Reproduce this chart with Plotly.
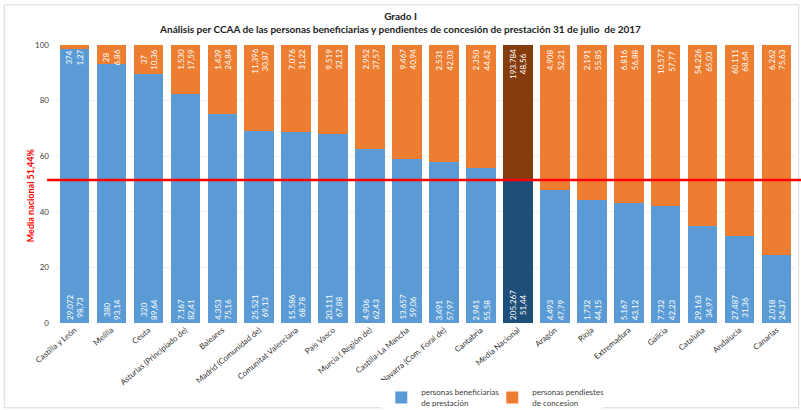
import plotly.graph_objects as go

# Regions, ordered by share of beneficiaries
ccaa = [
    "Castilla y León", "Melilla", "Ceuta", "Asturias (Principiado de)", "Baleares",
    "Madrid (Comunidad de)", "Comunitat Valenciana", "País Vasco", "Murcia ( Región de)",
    "Castilla-La Mancha", "Navarra (Com. Foral de)", "Cantabria", "Media Nacional",
    "Aragón", "Rioja", "Extremadura", "Galicia", "Cataluña", "Andalucia", "Canarias",
]
benef_n = [29072, 380, 320, 7167, 4353, 25521, 15586, 20111, 4906, 13657, 3491, 2941,
           205267, 4493, 1732, 5167, 7732, 29163, 27487, 2018]
benef_pct = [98.73, 93.14, 89.64, 82.41, 75.16, 69.13, 68.78, 67.88, 62.43, 59.06, 57.97,
             55.58, 51.44, 47.79, 44.15, 43.12, 42.23, 34.97, 31.36, 24.37]
pend_n = [374, 28, 37, 1530, 1439, 11396, 7076, 9519, 2952, 9467, 2531, 2350,
          193784, 4908, 2191, 6816, 10577, 54226, 60111, 6262]
pend_pct = [1.27, 6.86, 10.36, 17.59, 24.84, 30.87, 31.22, 32.12, 37.57, 40.94, 42.03,
            44.42, 48.56, 52.21, 55.85, 56.88, 57.77, 65.03, 68.64, 75.63]
media_nacional = 51.44
y_ticks = [0, 20, 40, 60, 80, 100]

BLUE, BLUE_D = "#5B9BD5", "#1F4E79"
ORANGE, ORANGE_D = "#ED7D31", "#843C0C"


def miles(n):
    return f"{n:,}".replace(",", ".")


def dec(v):
    return f"{v:.2f}".replace(".", ",")


is_media = [c == "Media Nacional" for c in ccaa]

fig = go.Figure()
fig.add_trace(go.Bar(
    x=ccaa, y=benef_pct, name="personas beneficiarias<br>de prestación",
    marker=dict(color=[BLUE_D if m else BLUE for m in is_media], line=dict(width=0)),
))
fig.add_trace(go.Bar(
    x=ccaa, y=pend_pct, name="personas pendiestes<br>de concesion",
    marker=dict(color=[ORANGE_D if m else ORANGE for m in is_media], line=dict(width=0)),
))

annotations = []
lbl_font = dict(family="Lato, Open Sans, sans-serif", size=8, color="white")
for c, bn, bp, pn, pp in zip(ccaa, benef_n, benef_pct, pend_n, pend_pct):
    # count and percentage of beneficiaries, at the foot of the bar
    annotations.append(dict(
        x=c, y=0, xref="x", yref="y", text=f"{miles(bn)}<br>{dec(bp)}",
        textangle=-90, showarrow=False, yanchor="bottom", xanchor="center",
        font=lbl_font, yshift=1,
    ))
    # count and percentage pending, at the top of the bar
    annotations.append(dict(
        x=c, y=100, xref="x", yref="y", text=f"{miles(pn)}<br>{dec(pp)}",
        textangle=-90, showarrow=False, yanchor="top", xanchor="center",
        font=lbl_font, yshift=-2,
    ))

annotations.append(dict(
    x=-0.035, y=0.46, xref="paper", yref="paper", text="<b>Media nacional 51,44%</b>",
    textangle=-90, showarrow=False, xanchor="center", yanchor="middle",
    font=dict(family="Lato, sans-serif", size=9, color="#FF0000"),
))

fig.update_layout(
    annotations=annotations,
    barmode="stack",
    bargap=0.2,
    width=801, height=410,
    margin=dict(l=56, r=6, t=45, b=87),
    paper_bgcolor="white", plot_bgcolor="white",
    font=dict(family="Lato, Open Sans, sans-serif", size=8, color="#404040"),
    title=dict(
        text="<b>Grado I</b><br><b>Análisis per CCAA de las personas beneficiarias y pendientes de concesión de prestación 31 de julio  de 2017</b>",
        x=0.5, xanchor="center", y=0.952, yanchor="top",
        font=dict(family="Lato, sans-serif", size=10, color="#222222"),
    ),
    xaxis=dict(tickangle=-40, tickfont=dict(size=8, color="#303030"), showgrid=False,
               showline=False, ticks="", automargin=False),
    yaxis=dict(range=[0, 100], tickvals=y_ticks, tickfont=dict(size=8, color="#404040"),
               showgrid=True, gridcolor="#EFEFEF", zeroline=False, showline=False,
               ticklabelstandoff=6, automargin=False),
    legend=dict(orientation="h", xref="container", yref="container",
                x=0.476, xanchor="left", y=0.072, yanchor="top",
                font=dict(size=8, color="#404040"), traceorder="normal",
                itemwidth=30, entrywidth=66),
    shapes=[
        dict(type="line", xref="paper", yref="y", x0=-0.012, x1=1.01,
             y0=media_nacional, y1=media_nacional,
             line=dict(color="#FF0000", width=2.5)),
        dict(type="rect", xref="paper", yref="paper", x0=-0.07, x1=1.005,
             y0=-0.305, y1=1.145, line=dict(color="#D9D9D9", width=1), layer="below"),
    ],
)

fig.write_html("out.html")
